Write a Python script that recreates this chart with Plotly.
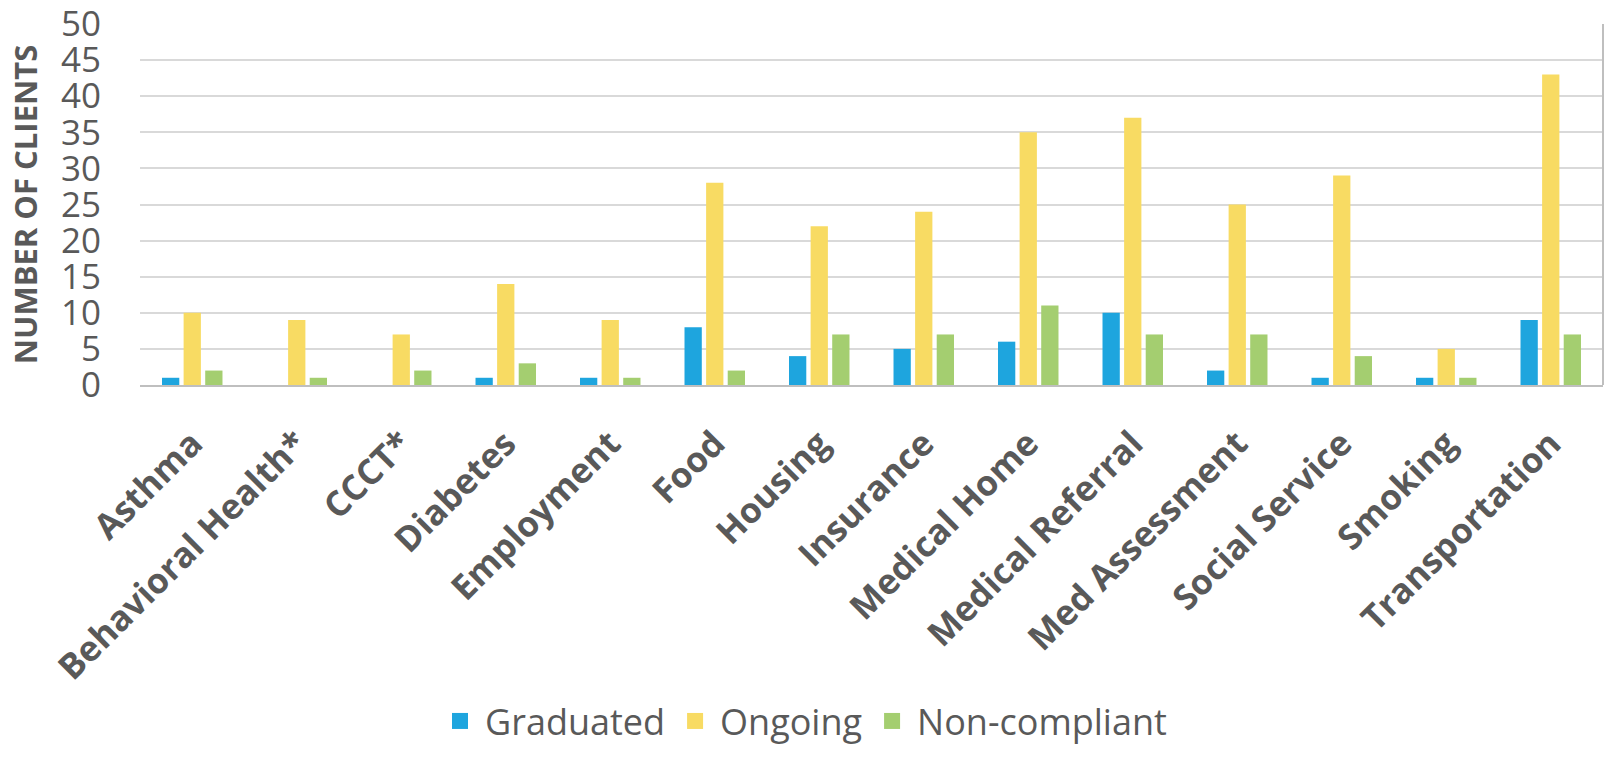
import plotly.graph_objects as go

categories = ["Asthma", "Behavioral Health*", "CCCT*", "Diabetes", "Employment", "Food",
              "Housing", "Insurance", "Medical Home", "Medical Referral", "Med Assessment",
              "Social Service", "Smoking", "Transportation"]
graduated = [1, 0, 0, 1, 1, 8, 4, 5, 6, 10, 2, 1, 1, 9]
ongoing = [10, 9, 7, 14, 9, 28, 22, 24, 35, 37, 25, 29, 5, 43]
non_compliant = [2, 1, 2, 3, 1, 2, 7, 7, 11, 7, 7, 4, 1, 7]
y_ticks = [0, 5, 10, 15, 20, 25, 30, 35, 40, 45, 50]

FONT = "Open Sans"
TXT = "#595959"

fig = go.Figure()
series = [("Graduated", graduated, "#1EA5DE"),
          ("Ongoing", ongoing, "#F8DB63"),
          ("Non-compliant", non_compliant, "#A4CE70")]
for name, vals, col in series:
    fig.add_trace(go.Bar(name=name, x=categories, y=vals, showlegend=False,
                         marker=dict(color=col, line=dict(width=0))))
# legend entries with larger square swatches
for name, vals, col in series:
    fig.add_trace(go.Scatter(name=name, x=[None], y=[None], mode="markers",
                             marker=dict(symbol="square", size=20, color=col)))

fig.update_layout(
    width=1607, height=759,
    margin=dict(l=140, r=4, t=24, b=374),
    paper_bgcolor="white", plot_bgcolor="white",
    barmode="group", bargap=0.38, bargroupgap=0.2,
    font=dict(family=FONT, color=TXT),
    legend=dict(orientation="h", xref="container", x=0.5, xanchor="center",
                yref="container", y=0.05, yanchor="middle",
                font=dict(size=36, color=TXT, family=FONT), traceorder="normal",
                itemwidth=40),
    showlegend=True,
)
fig.update_xaxes(tickangle=-45, tickfont=dict(size=35, family=FONT, color=TXT, weight="bold"),
                 showline=True, linecolor="#BFBFBF", linewidth=2, ticks="",
                 ticklabelstandoff=22, showgrid=False, automargin=False)
fig.update_yaxes(range=[0, 50], tickvals=y_ticks, tickfont=dict(size=35, family=FONT, color=TXT),
                 showgrid=True, gridcolor="#D9D9D9", gridwidth=2, zeroline=False,
                 ticklabeloverflow="allow", automargin=False,
                 title=dict(text="NUMBER OF CLIENTS", font=dict(size=31, family=FONT, color=TXT, weight="bold"),
                            standoff=14),
                 ticklabelstandoff=38)
fig.add_shape(type="line", xref="paper", yref="paper", x0=1, x1=1, y0=0, y1=1,
              line=dict(color="#BFBFBF", width=2))
fig.write_html("out.html")
